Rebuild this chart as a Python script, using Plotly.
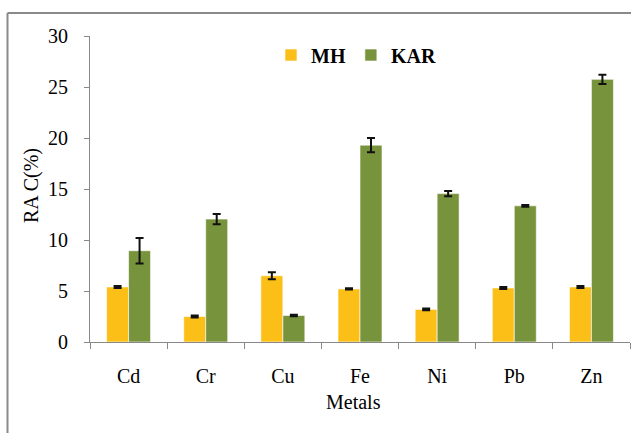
import plotly.graph_objects as go

# Relative Acid-extractable Content (RAC) of heavy metals at two sites
metals = ["Cd", "Cr", "Cu", "Fe", "Ni", "Pb", "Zn"]
mh_values = [5.4, 2.5, 6.5, 5.2, 3.2, 5.3, 5.4]
mh_errors = [0.1, 0.1, 0.35, 0.06, 0.08, 0.1, 0.1]
kar_values = [8.95, 12.05, 2.6, 19.3, 14.55, 13.35, 25.75]
kar_errors = [1.25, 0.5, 0.08, 0.7, 0.25, 0.08, 0.45]
y_ticks = [0, 5, 10, 15, 20, 25, 30]

FONT = "Times New Roman, Liberation Serif, DejaVu Serif, serif"
W, H = 631, 433
L, R, T, B = 90, 1, 36, 91
plot_w = W - L - R
plot_h = H - T - B


def px_x(px):
    return (px - L) / plot_w


def px_y(py):
    return (H - B - py) / plot_h


err_style = dict(type="data", color="#111111", thickness=2, width=4)

fig = go.Figure()
fig.add_trace(go.Bar(
    name="MH", x=metals, y=mh_values,
    marker=dict(color="#FBBF17", line=dict(color="rgba(255,255,255,0.6)", width=1)),
    error_y=dict(array=mh_errors, **err_style),
))
fig.add_trace(go.Bar(
    name="KAR", x=metals, y=kar_values,
    marker=dict(color="#77933B", line=dict(color="rgba(255,255,255,0.6)", width=1)),
    error_y=dict(array=kar_errors, **err_style),
))

fig.update_layout(
    width=W, height=H,
    margin=dict(l=L, r=R, t=T, b=B, pad=0),
    paper_bgcolor="white", plot_bgcolor="white",
    barmode="group", bargap=0.43, bargroupgap=0,
    font=dict(family=FONT, size=20, color="#000000"),
    showlegend=True,
    legend=dict(
        orientation="h", x=px_x(356), xanchor="center", y=px_y(55), yanchor="middle",
        font=dict(family=FONT, size=20, color="#000000", weight="bold"),
        bgcolor="rgba(0,0,0,0)", itemwidth=30, tracegroupgap=0,
    ),
    xaxis=dict(
        type="category", showline=True, linecolor="#888888", linewidth=1,
        ticks="outside", tickson="boundaries", ticklen=6, tickcolor="#888888",
        showgrid=False, ticklabelstandoff=16,
        tickfont=dict(family=FONT, size=20, color="#000000"),
    ),
    yaxis=dict(
        range=[0, 30], tickvals=y_ticks, showline=True, linecolor="#888888",
        linewidth=1, ticks="outside", ticklen=5, tickcolor="#888888",
        showgrid=False, zeroline=False, ticklabelstandoff=12,
        tickfont=dict(family=FONT, size=20, color="#000000"),
    ),
    annotations=[
        dict(text="Metals", xref="paper", yref="paper", x=px_x(353), y=px_y(402),
             xanchor="center", yanchor="middle", showarrow=False,
             font=dict(family=FONT, size=20, color="#000000")),
        dict(text="RA C(%)", xref="paper", yref="paper", x=px_x(31), y=px_y(186),
             xanchor="center", yanchor="middle", showarrow=False, textangle=-90,
             font=dict(family=FONT, size=20, color="#000000")),
    ],
    shapes=[
        dict(type="line", xref="paper", yref="paper",
             x0=px_x(7.5), x1=px_x(7.5), y0=px_y(13), y1=px_y(440),
             line=dict(color="#8a8a8a", width=2)),
        dict(type="line", xref="paper", yref="paper",
             x0=px_x(7.5), x1=px_x(640), y0=px_y(13), y1=px_y(13),
             line=dict(color="#8a8a8a", width=2)),
    ],
)

fig.write_html("out.html")
